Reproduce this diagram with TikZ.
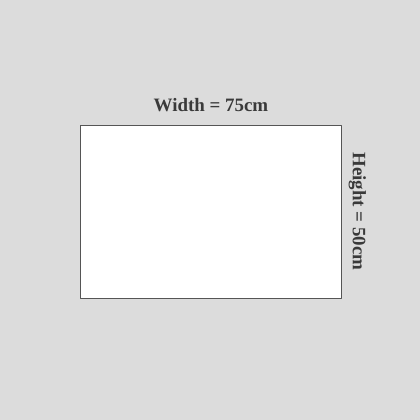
\documentclass[tikz,border=0pt]{standalone}
\usepackage{fontspec}
\setmainfont{Liberation Serif}
\usetikzlibrary{positioning}
\definecolor{bggray}{HTML}{DCDCDC}
\definecolor{inkgray}{HTML}{3A3A3A}
\definecolor{edgegray}{HTML}{555555}
\begin{document}
\begin{tikzpicture}[x=1bp,y=-1bp,line join=bevel,
    dimlabel/.style={text=inkgray,font=\fontsize{19}{22}\selectfont\bfseries,inner sep=0pt}]
            %
            \fill[bggray] (0,0) rectangle (420,420);
            \useasboundingbox (0,0) rectangle (420,420);
            %
            \node (board) at (211,211.5) [rectangle,draw=edgegray,fill=white,line width=1bp,inner sep=0pt,minimum width=260bp,minimum height=173bp] {};
            \node[dimlabel,above=13bp of board] (width) {Width = 75cm};
            \node[dimlabel,rotate=-90,anchor=south] (height) at ([xshift=7bp]board.east) {Height = 50cm};
            %
\end{tikzpicture}
\end{document}
